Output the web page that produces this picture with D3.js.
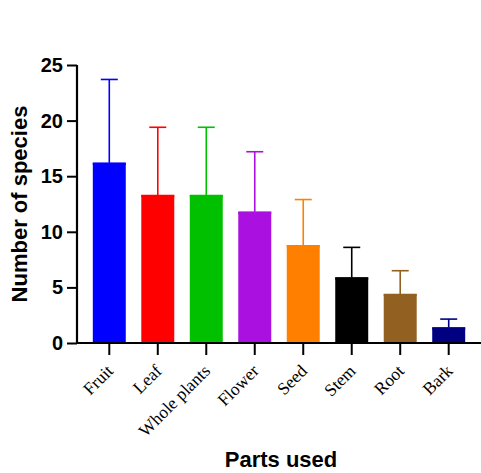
<!DOCTYPE html>
<html><head><meta charset="utf-8">
<script src="https://cdn.jsdelivr.net/npm/d3@7"></script>
<style>body{margin:0;background:#fff}svg{display:block}</style>
</head><body>
<script>
const categories = ["Fruit","Leaf","Whole plants","Flower","Seed","Stem","Root","Bark"];
const means = [16.2, 13.3, 13.3, 11.8, 8.8, 5.9, 4.4, 1.4];
const sds = [7.5, 6.1, 6.1, 5.4, 4.1, 2.7, 2.1, 0.75];
const colors = ["#0000ff","#ff0000","#00c000","#aa10e0","#ff8000","#000000","#926020","#000080"];
const yTicks = [0,5,10,15,20,25];

const W=481,H=473;
const x0=77, x1=481, yTop=65, yBot=343;
const svg=d3.select("body").append("svg").attr("width",W).attr("height",H);

const x=d3.scaleBand().domain(categories).range([x0,x1]).paddingInner(0.32).paddingOuter(0.326);
const y=d3.scaleLinear().domain([0,25]).range([yBot,yTop]);

// bars
svg.selectAll("rect.bar").data(categories).join("rect")
  .attr("x",d=>x(d)).attr("width",x.bandwidth())
  .attr("y",(d,i)=>y(means[i])).attr("height",(d,i)=>yBot-y(means[i]))
  .attr("fill",(d,i)=>colors[i]);
// top edge
svg.selectAll("line.top").data(categories).join("line")
  .attr("x1",d=>x(d)).attr("x2",d=>x(d)+x.bandwidth())
  .attr("y1",(d,i)=>y(means[i])+1).attr("y2",(d,i)=>y(means[i])+1)
  .attr("stroke",(d,i)=>colors[i]).attr("stroke-width",2.5);

// error bars
const eb=svg.selectAll("g.eb").data(categories).join("g").attr("stroke",(d,i)=>colors[i]).attr("stroke-width",1.6);
eb.append("line").attr("x1",d=>x(d)+x.bandwidth()/2).attr("x2",d=>x(d)+x.bandwidth()/2)
  .attr("y1",(d,i)=>y(means[i])).attr("y2",(d,i)=>y(means[i]+sds[i]));
eb.append("line").attr("x1",d=>x(d)+x.bandwidth()/2-8.5).attr("x2",d=>x(d)+x.bandwidth()/2+8.5)
  .attr("y1",(d,i)=>y(means[i]+sds[i])).attr("y2",(d,i)=>y(means[i]+sds[i]));

// y axis
const ya=svg.append("g").attr("transform",`translate(${x0},0)`)
  .call(d3.axisLeft(y).tickValues(yTicks).tickSize(10).tickPadding(4).tickSizeOuter(0));
ya.select(".domain").attr("stroke","#000").attr("stroke-width",2.2).attr("d",`M0,${yTop}V${yBot+1}`);
ya.selectAll(".tick line").attr("stroke-width",2);
ya.selectAll(".tick text").attr("font-family","Liberation Sans, Arial, sans-serif").attr("font-weight","bold").attr("font-size",20).attr("fill","#000");

// x axis
const xa=svg.append("g").attr("transform",`translate(0,${yBot})`)
  .call(d3.axisBottom(x).tickSize(12).tickSizeOuter(0).tickFormat(""));
xa.select(".domain").attr("stroke-width",2.2).attr("d",`M${x0-1},0H${x1}`);
xa.selectAll(".tick line").attr("stroke-width",2);
svg.append("g").selectAll("text").data(categories).join("text")
  .attr("transform",d=>`translate(${x(d)+x.bandwidth()/2+5},${yBot+29}) rotate(-45)`)
  .attr("text-anchor","end").attr("font-family","Liberation Serif, Times New Roman, serif")
  .attr("font-size",17.5).attr("fill","#000").text(d=>d);

// axis titles
svg.append("text").attr("transform",`translate(27,${(yTop+yBot)/2}) rotate(-90)`)
  .attr("text-anchor","middle").attr("font-family","Liberation Sans, Arial, sans-serif")
  .attr("font-weight","bold").attr("font-size",22).text("Number of species");
svg.append("text").attr("x",281).attr("y",467).attr("text-anchor","middle")
  .attr("font-family","Liberation Sans, Arial, sans-serif")
  .attr("font-weight","bold").attr("font-size",22).text("Parts used");
</script>
</body></html>
